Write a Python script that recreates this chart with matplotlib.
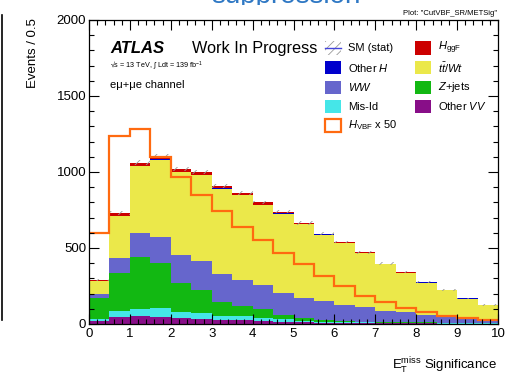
import numpy as np
import matplotlib
matplotlib.use("Agg")
import matplotlib.pyplot as plt
from matplotlib.patches import Rectangle
from matplotlib.lines import Line2D
from matplotlib.ticker import MultipleLocator

plt.rcParams['font.family'] = ['Liberation Sans', 'DejaVu Sans']
plt.rcParams['mathtext.fontset'] = 'custom'
plt.rcParams['mathtext.rm'] = 'Liberation Sans'
plt.rcParams['mathtext.it'] = 'Liberation Sans:italic'
plt.rcParams['mathtext.bf'] = 'Liberation Sans:bold'
plt.rcParams['hatch.linewidth'] = 0.6

# bin edges of E_T^miss significance, 0.5 wide
edges = np.arange(0, 10.01, 0.5)

# backgrounds, bottom of stack first
other_vv = [20, 48, 53, 48, 40, 33, 26, 26, 20, 15, 11, 9, 8, 6, 5, 4, 4, 3, 3, 2]
mis_id = [12, 37, 45, 59, 36, 39, 29, 27, 17, 16, 11, 6, 5, 4, 4, 3, 3, 2, 2, 2]
zjets = [136, 248, 345, 292, 192, 152, 92, 65, 59, 28, 19, 11, 8, 6, 5, 4, 3, 3, 2, 2]
ww = [28, 99, 154, 176, 186, 188, 182, 171, 161, 145, 130, 125, 106, 94, 73, 70, 46, 40, 24, 20]
ttbar = [86, 278, 441, 507, 544, 567, 561, 557, 526, 522, 484, 436, 407, 356, 307, 256, 217, 173, 136, 97]
other_h = [1, 3, 4, 4, 4, 4, 3, 3, 3, 2, 2, 2, 1, 1, 1, 1, 1, 1, 1, 1]
hggf = [6, 15, 19, 19, 18, 17, 15, 15, 14, 11, 7, 6, 5, 4, 3, 2, 2, 2, 1, 1]
sm_unc = [9, 13, 15, 15, 14, 14, 13, 13, 12, 11, 11, 10, 9, 9, 8, 7, 7, 6, 5, 5]

# signal scaled x50
hvbf_x50 = [600, 1239, 1283, 1097, 969, 849, 743, 636, 553, 469, 393, 316, 252, 186, 144, 105, 76, 54, 37, 26]

stack = [
    (other_vv, '#880e88'),
    (mis_id, '#45e6e8'),
    (zjets, '#12b812'),
    (ww, '#6666cc'),
    (ttbar, '#ebe84a'),
    (other_h, '#0000cc'),
    (hggf, '#cc0000'),
]

W, H = 505, 381
fig = plt.figure(figsize=(W / 100, H / 100), dpi=100)
ax = fig.add_axes([89 / W, 57 / H, 409 / W, 304 / H])

bottom = np.zeros(len(edges) - 1)
for vals, col in stack:
    top = bottom + np.array(vals)
    ax.stairs(top, edges, baseline=bottom, fill=True, color=col, linewidth=0)
    bottom = top

total = bottom
unc = np.array(sm_unc)
ax.bar(edges[:-1], 2 * unc, bottom=total - unc, width=0.5, align='edge',
       fill=False, hatch='///', edgecolor='#9a9a9a', linewidth=0)

ax.stairs(hvbf_x50, edges, baseline=None, color='#ff6a10', linewidth=1.6)

ax.set_xlim(0, 10)
ax.set_ylim(0, 2000)
ax.xaxis.set_major_locator(MultipleLocator(1))
ax.xaxis.set_minor_locator(MultipleLocator(0.2))
ax.yaxis.set_major_locator(MultipleLocator(500))
ax.yaxis.set_minor_locator(MultipleLocator(100))
ax.tick_params(which='both', direction='in', top=True, right=True, labelsize=9.5, width=0.8)
ax.tick_params(which='major', length=7)
ax.tick_params(which='minor', length=3.5)
ax.tick_params(axis='x', pad=3)
ax.tick_params(axis='y', pad=2)
for s in ax.spines.values():
    s.set_linewidth(0.9)

fig.text(33 / W, 1 - 18 / H, 'Events / 0.5', rotation=90, ha='center', va='top', fontsize=9.5)
fig.text(497 / W, 1 - 370 / H, r'$\mathregular{E_T^{miss}}$ Significance', ha='right',
         va='baseline', fontsize=9.5)

# labels inside the plot
fig.text(110 / W, 1 - 53 / H, 'ATLAS', fontsize=12, fontweight='bold', fontstyle='italic', va='baseline')
fig.text(192 / W, 1 - 53 / H, 'Work In Progress', fontsize=11.7, va='baseline')
fig.text(110 / W, 1 - 68 / H, r'√s = 13 TeV, ∫ Ldt = 139 fb$^{-1}$', fontsize=5.2, va='baseline')
fig.text(110 / W, 1 - 88 / H, 'eμ+μe channel', fontsize=8, va='baseline')
fig.text(497 / W, 1 - 15 / H, 'Plot: "CutVBF_SR/METSig"', fontsize=5.5, ha='right', va='baseline')

# legend
rows = [48, 67.5, 87, 106.5, 125]
col1 = [('SM (stat)', 'unc'), ('Other $H$', '#0000cc'), ('$WW$', '#6666cc'),
        ('Mis-Id', '#45e6e8'), (r'$H_{\mathrm{VBF}}$ x 50', 'sig')]
col2 = [(r'$H_{\mathrm{ggF}}$', '#cc0000'), (r'$t\bar{t}/Wt$', '#ebe84a'),
        ('$Z$+jets', '#12b812'), ('Other $VV$', '#880e88')]
bw, bh = 16, 13
for bx, entries in [(325, col1), (415, col2)]:
    for (lab, kind), yc in zip(entries, rows):
        xy = (bx / W, 1 - (yc + bh / 2) / H)
        if kind == 'unc':
            fig.add_artist(Rectangle(xy, bw / W, bh / H, transform=fig.transFigure, fill=False,
                                     hatch='////', edgecolor='#9a9a9a', linewidth=0))
            fig.add_artist(Line2D([bx / W, (bx + bw) / W], [1 - yc / H] * 2, color='#4444dd',
                                  linewidth=1, transform=fig.transFigure))
        elif kind == 'sig':
            fig.add_artist(Rectangle(xy, bw / W, bh / H, transform=fig.transFigure, fill=False,
                                     edgecolor='#ff6a10', linewidth=1.6))
        else:
            fig.add_artist(Rectangle(xy, bw / W, bh / H, transform=fig.transFigure,
                                     facecolor=kind, linewidth=0))
        fig.text((bx + 23) / W, 1 - yc / H, lab, fontsize=8, va='center')

# slide leftovers around the plot: side rule and cut-off title (only its bottom edge shows)
fig.add_artist(Line2D([1.5 / W, 1.5 / W], [1 - 15 / H, 1 - 320 / H], color='black',
                      linewidth=1.2, transform=fig.transFigure))
fig.text(286 / W, 1 - 3 / H, 'suppression', fontsize=20, color='#2f78c4', ha='center', va='baseline')
fig.add_artist(Rectangle((200 / W, 1 - 14 / H), 180 / W, 9 / H, transform=fig.transFigure,
                         facecolor='white', linewidth=0, zorder=10))

fig.savefig('out.png', dpi=100)
